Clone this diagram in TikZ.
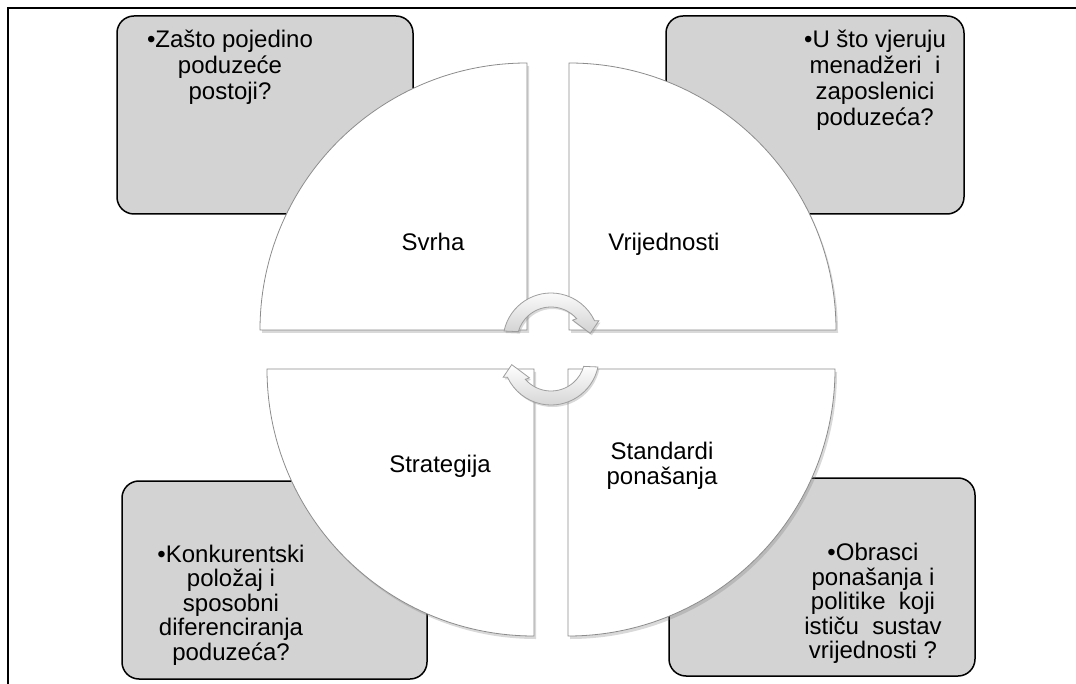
\documentclass[tikz,border=0pt]{standalone}
\usepackage{fontspec}
\setmainfont{Liberation Sans}
\usetikzlibrary{shadows}
\usepackage{tkz-euclide}
\definecolor{BoxClr}{rgb}{0.827,0.827,0.827}
\definecolor{EdgeClr}{rgb}{0.55,0.55,0.55}
\definecolor{TurnClr}{rgb}{0.62,0.62,0.62}

\tikzset{
  turnarrow/.pic={
    \draw[turn] (192:48) arc[start angle=192,end angle=335,radius=48]
      -- (337:52) -- (349:40) -- (316:30) -- (319:34)
      arc[start angle=319,end angle=196,radius=34] -- cycle;
  }
}

\begin{document}
\begin{tikzpicture}[x=1pt,y=-1pt,
  box/.style={draw=black,line width=1.5pt,fill=BoxClr,rounded corners=17pt},
  quarter/.style={draw=EdgeClr,line width=0.8pt,fill=white,
    drop shadow={shadow xshift=2pt,shadow yshift=-3pt,opacity=0.3}},
  turn/.style={draw=TurnClr,line width=0.8pt,top color=white,bottom color=black!18,
    drop shadow={shadow xshift=1.5pt,shadow yshift=-2pt,opacity=0.3}},
  boxtext/.style={align=center,inner sep=0pt,font=\fontsize{24}{26}\selectfont},
  lowtext/.style={align=center,inner sep=0pt,font=\fontsize{24}{24.5}\selectfont},
  label/.style={inner sep=0pt,font=\fontsize{24}{25}\selectfont}]
\useasboundingbox (0,0) rectangle (1076,684);

% frame
\draw[line width=1.8pt] (8,684) -- (8,8) -- (1076,8);

% grey boxes
\draw[box] (117,16) rectangle (413,214);
\draw[box] (666,16) rectangle (964,214);
\draw[box] (122,481) rectangle (427,679);
\draw[box] (669,478) rectangle (975,676);

\node[boxtext,anchor=north] (qPurpose) at (230,30) {•Zašto pojedino\\poduzeće\\postoji?};
\node[boxtext,anchor=north] (qValues) at (875,30) {•U što vjeruju\\menadžeri~ i\\zaposlenici\\poduzeća?};
\node[lowtext,anchor=north] (qStrategy) at (231,544.5) {•Konkurentski\\položaj i\\sposobni\\diferenciranja\\poduzeća?};
\node[lowtext,anchor=north] (qNorms) at (873,543) {•Obrasci\\ponašanja i\\politike~ koji\\ističu~ sustav\\vrijednosti ?};

% quarter circles
\tkzDefPoints{527/330/Ctl,569/330/Ctr,534/369/Cbl,568/369/Cbr,551/341/Tu,551/357/Td}
\draw[quarter] (Ctl) -- ++(-267,0) arc[start angle=180,end angle=270,radius=267] -- cycle;
\draw[quarter] (Ctr) -- ++(0,-267) arc[start angle=270,end angle=360,radius=267] -- cycle;
\draw[quarter] (Cbl) -- ++(0,267) arc[start angle=90,end angle=180,radius=267] -- cycle;
\draw[quarter] (Cbr) -- ++(267,0) arc[start angle=0,end angle=90,radius=267] -- cycle;

\node[label,anchor=base] (svrha) at (433,251) {Svrha};
\node[label,anchor=base] (vrij) at (664,251) {Vrijednosti};
\node[label,anchor=base] (strat) at (440,472) {Strategija};
\node[label,align=center,anchor=north] (stand) at (662,441.5) {Standardi\\ponašanja};

% turning arrows
\pic at (Tu) {turnarrow};
\pic[rotate=180] at (Td) {turnarrow};

\end{tikzpicture}
\end{document}
